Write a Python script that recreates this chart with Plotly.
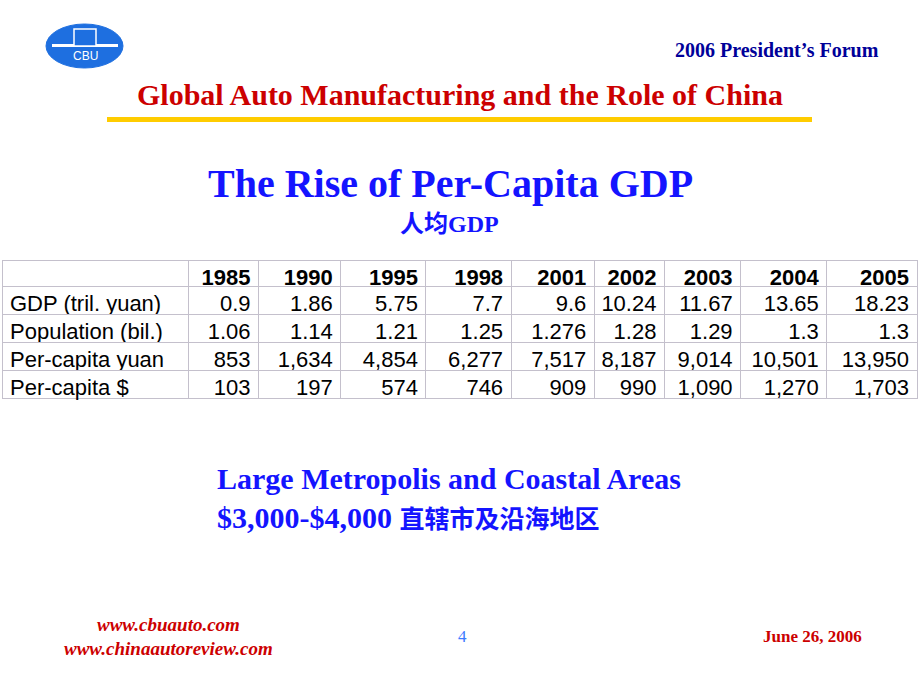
import plotly.graph_objects as go

# table data
years = ["1985", "1990", "1995", "1998", "2001", "2002", "2003", "2004", "2005"]
row_labels = ["GDP (tril. yuan)", "Population (bil.)", "Per-capita yuan", "Per-capita $"]
gdp = [0.9, 1.86, 5.75, 7.7, 9.6, 10.24, 11.67, 13.65, 18.23]
population = [1.06, 1.14, 1.21, 1.25, 1.276, 1.28, 1.29, 1.3, 1.3]
per_capita_yuan = [853, 1634, 4854, 6277, 7517, 8187, 9014, 10501, 13950]
per_capita_usd = [103, 197, 574, 746, 909, 990, 1090, 1270, 1703]

W, H = 920, 690
serif = "Liberation Serif, Times New Roman, serif"
serif_cjk = "Liberation Serif, Noto Sans CJK SC, serif"
sans = "Liberation Sans, Arial, sans-serif"


def py(px):
    # pixel from top -> paper y
    return 1 - px / H


def px_x(px):
    return px / W


# build cell columns: first column labels, then one column per year
rows = [
    [str(v) for v in gdp],
    [str(v) for v in population],
    [f"{v:,}" for v in per_capita_yuan],
    [f"{v:,}" for v in per_capita_usd],
]
columns = [row_labels] + [[r[i] for r in rows] for i in range(len(years))]
header = [" "] + years

col_widths = [186, 70, 82, 85, 85, 83, 70, 76, 86, 90]

fig = go.Figure()
fig.add_trace(go.Table(
    domain=dict(x=[px_x(2), px_x(917)], y=[py(402), py(260)]),
    columnwidth=col_widths,
    header=dict(
        values=header,
        align=["left"] + ["right"] * len(years),
        font=dict(family=sans, size=22, color="black", weight="bold"),
        fill_color="white",
        line_color="#c4c0cc",
        height=26,
    ),
    cells=dict(
        values=columns,
        align=["left"] + ["right"] * len(years),
        font=dict(family=sans, size=22, color="black"),
        fill_color="white",
        line_color="#c4c0cc",
        height=28,
    ),
))

# logo
fig.add_shape(type="circle", xref="paper", yref="paper", layer="below",
              x0=px_x(46), x1=px_x(123), y0=py(68), y1=py(24),
              fillcolor="#1e6fe0", line=dict(color="#1e6fe0", width=1))
fig.add_shape(type="rect", xref="paper", yref="paper", layer="below",
              x0=px_x(52), x1=px_x(118), y0=py(47), y1=py(44),
              fillcolor="white", line=dict(width=0))
fig.add_shape(type="rect", xref="paper", yref="paper", layer="below",
              x0=px_x(74), x1=px_x(96), y0=py(46), y1=py(29),
              fillcolor="#1e6fe0", line=dict(color="white", width=1.5))
fig.add_annotation(x=px_x(85), y=py(56), xref="paper", yref="paper",
                   text="CBU", showarrow=False, xanchor="center", yanchor="middle",
                   font=dict(family=sans, size=12, color="white"))

# yellow rule under the header
fig.add_shape(type="rect", xref="paper", yref="paper", layer="below",
              x0=px_x(107), x1=px_x(812), y0=py(122), y1=py(117),
              fillcolor="#ffcc00", line=dict(width=0))


def text(x, y, s, size, color, family=serif, xanchor="center"):
    fig.add_annotation(x=px_x(x), y=py(y), xref="paper", yref="paper",
                       text=s, showarrow=False, xanchor=xanchor, yanchor="middle",
                       font=dict(family=family, size=size, color=color))


text(881, 50, "<b>2006 President’s Forum</b>", 20, "#000099", xanchor="right")
text(460, 94, "<b>Global Auto Manufacturing and the Role of China</b>", 30, "#cc0000")
text(450, 184, "<b>The Rise of Per-Capita GDP</b>", 40, "#1414ff")
text(449, 224, "<b>人均GDP</b>", 24, "#1414ff", family=serif_cjk)
text(215, 479, "<b>Large Metropolis and Coastal Areas</b>", 30, "#1414ff", xanchor="left")
text(215, 517, "<b>$3,000-$4,000 </b><span style='font-size:25px'><b>直辖市及沿海地区</b></span>",
     30, "#1414ff", family=serif_cjk, xanchor="left")

# footer
text(168, 624, "<b><i>www.cbuauto.com</i></b>", 19, "#cc0000")
text(168, 648, "<b><i>www.chinaautoreview.com</i></b>", 19, "#cc0000")
text(462, 636, "4", 17, "#3a7bff")
text(812, 636, "<b>June 26, 2006</b>", 17, "#cc0000")

fig.update_layout(
    width=W, height=H,
    margin=dict(l=0, r=0, t=0, b=0),
    paper_bgcolor="white", plot_bgcolor="white",
    showlegend=False,
)

fig.write_html("out.html", config={"displayModeBar": False},
               post_script="document.body.style.margin='0';")
